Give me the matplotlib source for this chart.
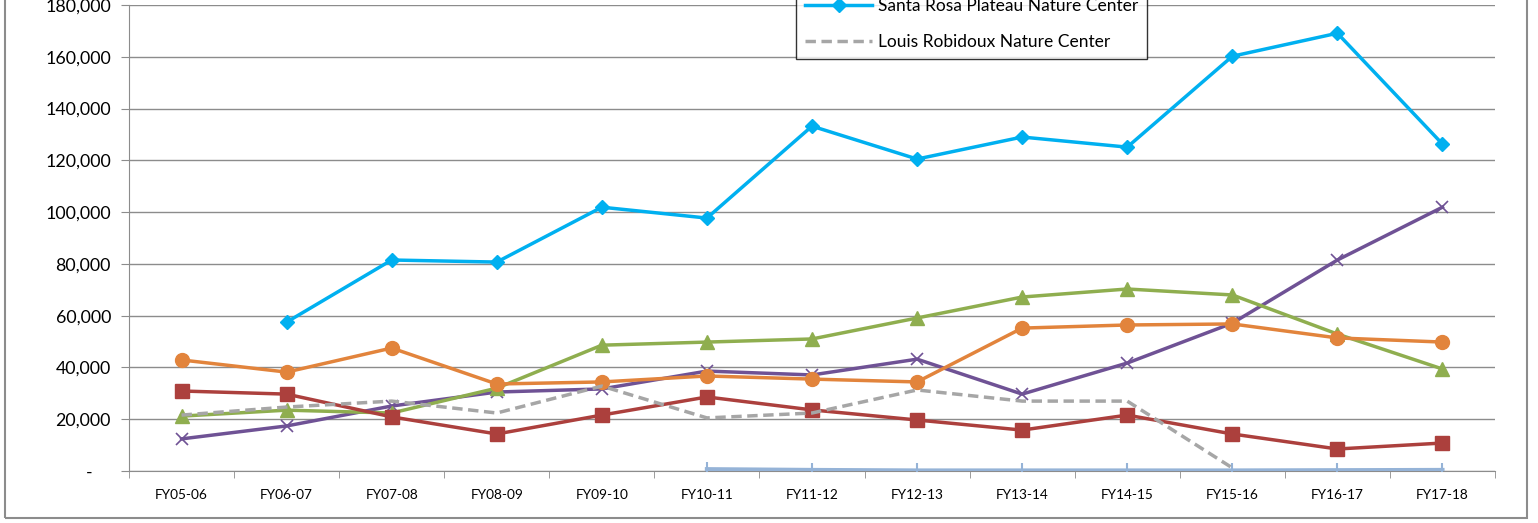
import numpy as np
import matplotlib.pyplot as plt
from matplotlib.patches import Rectangle
from matplotlib.ticker import FuncFormatter

plt.rcParams['font.family'] = ['Lato', 'DejaVu Sans']

years = ['FY05-06', 'FY06-07', 'FY07-08', 'FY08-09', 'FY09-10', 'FY10-11', 'FY11-12',
         'FY12-13', 'FY13-14', 'FY14-15', 'FY15-16', 'FY16-17', 'FY17-18']

# nan = no data for that year
santa_rosa = [np.nan, 57500, 81500, 80700, 101900, 97700, 133200, 120500, 129000, 125100, 160200, 169100, 126300]
louis_robidoux = [21600, 24700, 27000, 22400, 32800, 20500, 22400, 31300, 27000, 27000, 1200, np.nan, np.nan]
orange_series = [42900, 38200, 47500, 33600, 34400, 36700, 35500, 34400, 55200, 56400, 56800, 51400, 49800]
red_series = [30900, 29700, 20900, 14300, 21600, 28600, 23600, 19700, 15800, 21600, 14300, 8500, 10800]
green_series = [21200, 23500, 22400, 32000, 48600, 49800, 51000, 59100, 67200, 70300, 68000, 52900, 39400]
purple_series = [12400, 17400, 25100, 30500, 31700, 38600, 37100, 43200, 29700, 41700, 57100, 81500, 101900]
light_blue_series = [np.nan, np.nan, np.nan, np.nan, np.nan, 700, 400, 200, 200, 200, 200, 300, 400]

x = np.arange(len(years))

fig = plt.figure(figsize=(15.38, 5.23), dpi=100)
ax = fig.add_axes([129 / 1538, 1 - 471 / 523, (1495 - 129) / 1538, (471 - 5) / 523])

ax.plot(x, light_blue_series, color='#95B3D7', lw=3, marker='|', ms=10, mew=1.5, zorder=3)
ax.plot(x, purple_series, color='#6F5295', lw=2.5, marker='x', ms=9, mew=1.2, zorder=3)
ax.plot(x, green_series, color='#8FAE4F', lw=2.5, marker='^', ms=10, zorder=3)
ax.plot(x, red_series, color='#AC403D', lw=2.5, marker='s', ms=10, zorder=3)
ax.plot(x, orange_series, color='#E2843C', lw=2.5, marker='o', ms=10, zorder=3)
l2, = ax.plot(x, louis_robidoux, color='#A6A6A6', lw=2.5, ls=(0, (3, 1.6)), zorder=3,
              label='Louis Robidoux Nature Center')
l1, = ax.plot(x, santa_rosa, color='#00B0F0', lw=2.5, marker='D', ms=7, zorder=4,
              label='Santa Rosa Plateau Nature Center')

ax.set_xlim(-0.5, len(years) - 0.5)
ax.set_ylim(0, 180000)
ax.set_yticks(np.arange(0, 180001, 20000))
ax.yaxis.set_major_formatter(FuncFormatter(lambda v, p: '-    ' if v == 0 else f'{int(v):,}'))
ax.grid(axis='y', color='#8C8C8C', lw=1)
ax.set_axisbelow(True)

ax.set_xticks(x)
ax.set_xticklabels(years, fontsize=9.8)
ax.set_xticks(np.arange(-0.5, len(years)), minor=True)
ax.tick_params(axis='x', which='major', length=0, pad=13)
ax.tick_params(axis='x', which='minor', length=5, color='#8C8C8C')
ax.tick_params(axis='y', length=6, color='#8C8C8C', labelsize=12.8, pad=7)

for s in ['top', 'right']:
    ax.spines[s].set_visible(False)
for s in ['left', 'bottom']:
    ax.spines[s].set_color('#8C8C8C')

leg = ax.legend(handles=[l1, l2], loc='lower left', bbox_to_anchor=(796 / 1538, 1 - 59 / 523),
                bbox_transform=fig.transFigure, fontsize=12.5, frameon=True, fancybox=False,
                handlelength=3.9, labelspacing=1.15, borderpad=0.5, handletextpad=0.3,
                borderaxespad=0)
leg.get_frame().set_edgecolor('black')
leg.get_frame().set_linewidth(1)

fig.patches.append(Rectangle((5 / 1538, 5 / 523), 1522 / 1538, 1.2, transform=fig.transFigure,
                             fill=False, edgecolor='#8C8C8C', lw=1.5, clip_on=False))

fig.savefig('out.png', dpi=100)
